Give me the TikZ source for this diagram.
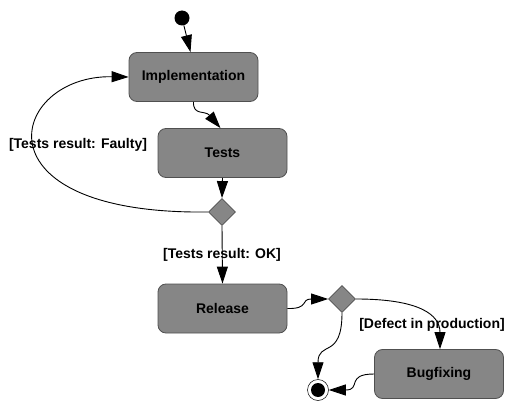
\documentclass[tikz,border=0pt]{standalone}
\usepackage{fontspec}
\setmainfont{Liberation Sans}
\usetikzlibrary{arrows.meta,shapes.geometric}
\definecolor{boxfill}{RGB}{134,134,134}
\definecolor{boxline}{RGB}{80,80,80}
\begin{document}
\begin{tikzpicture}[x=1pt,y=-1pt,
  act/.style={draw=boxline,fill=boxfill,rounded corners=8pt,minimum width=129pt,minimum height=49pt,line width=0.8pt,inner sep=0pt,font=\fontsize{14}{16}\selectfont\bfseries},
  dec/.style={draw=boxline,fill=boxfill,diamond,minimum width=27pt,minimum height=27pt,inner sep=0pt,line width=0.8pt},
  lbl/.style={font=\fontsize{14}{16}\selectfont\bfseries,inner sep=0pt},
  conn/.style={draw=black,line width=0.9pt,-{Triangle[length=17pt,width=11pt]}}]
\useasboundingbox (0,0) rectangle (506,401);
\node[circle,fill=black,minimum size=15pt,inner sep=0pt] (start) at (182,18) {};
\node[act] (impl) at (193.5,77) {Implementation};
\node[act] (tests) at (222.5,153) {Tests};
\node[dec] (d1) at (222,212) {};
\node[act] (rel) at (222.5,308.5) {Release};
\node[dec] (d2) at (342,299) {};
\node[act] (bug) at (439,374) {Bugfixing};
\node[circle,draw=black,fill=white,line width=0.5pt,minimum size=21pt,inner sep=0pt] (end) at (318,390) {};
\node[circle,fill=black,minimum size=14pt,inner sep=0pt] at (end.center) {};
\node[lbl] (lf) at (78,145) {[Tests result: Faulty]};
\node[lbl] (lok) at (222,255) {[Tests result: OK]};
\node[lbl] (ldef) at (432,325) {[Defect in production]};
% connectors
\draw[conn] (start) -- ([xshift=-3pt]impl.north);
\draw[conn] (impl.south) .. controls (193,116) and (205,110) .. ([xshift=-2pt]tests.north);
\draw[conn] (tests.south) -- (d1.north);
\draw[conn] (d1.west) .. controls (-30,215) and (10,75) .. (impl.west);
\draw[conn] (d1.south) -- (rel.north);
\draw[conn] (rel.east) .. controls (310,309) and (300,299) .. (d2.west);
\draw[conn] (d2.east) .. controls (420,299) and (440,315) .. ([xshift=1pt]bug.north);
\draw[conn] (d2.south) .. controls (342,360) and (318,340) .. (end.north);
\draw[conn] (bug.west) .. controls (345,374) and (362,390) .. (end.east);
\end{tikzpicture}
\end{document}
